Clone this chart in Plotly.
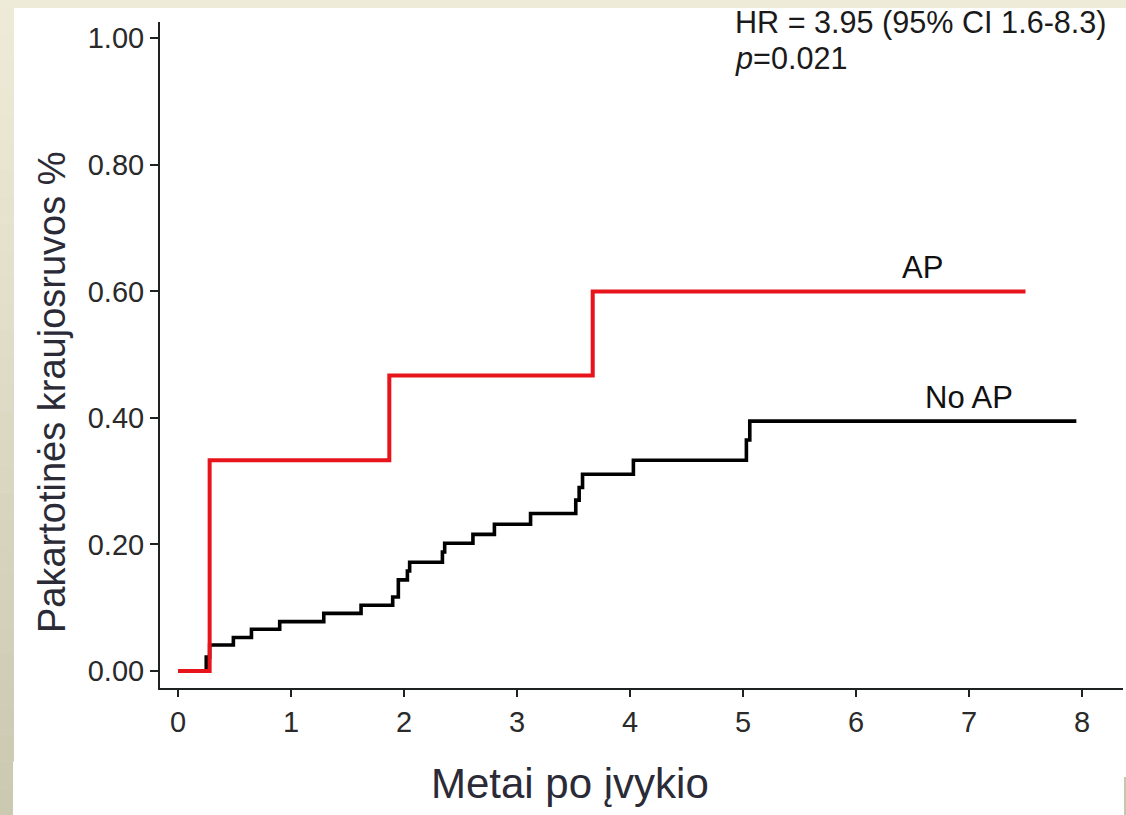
import plotly.graph_objects as go

# ---- data ----
ap_years = [0, 0.28, 1.87, 3.67, 7.50]
ap_values = [0, 0.333, 0.467, 0.600, 0.600]

noap_years = [0, 0.25, 0.28, 0.49, 0.65, 0.90, 1.29, 1.62, 1.90, 1.95, 2.03, 2.05,
              2.34, 2.36, 2.61, 2.80, 3.12, 3.52, 3.55, 3.58, 4.03, 5.03, 5.06, 7.95]
noap_values = [0, 0.022, 0.041, 0.053, 0.066, 0.078, 0.091, 0.104, 0.117, 0.144, 0.158, 0.172,
               0.188, 0.202, 0.216, 0.232, 0.249, 0.270, 0.290, 0.311, 0.333, 0.365, 0.395, 0.395]

x_ticks = [0, 1, 2, 3, 4, 5, 6, 7, 8]
y_ticks = [0.0, 0.2, 0.4, 0.6, 0.8, 1.0]

W, H = 1126, 815
L, R, T, B = 160, 3, 22, 127
pw, ph = W - L - R, H - T - B


def px(xp):
    return (xp - L) / pw


def py(yp):
    return (H - B - yp) / ph


FONT = "Arial, Liberation Sans, sans-serif"

fig = go.Figure()
fig.add_trace(go.Scatter(x=noap_years, y=noap_values, mode="lines", line_shape="hv",
                         line=dict(color="#000000", width=3.6), name="No AP", showlegend=False))
fig.add_trace(go.Scatter(x=ap_years, y=ap_values, mode="lines", line_shape="hv",
                         line=dict(color="#e8141b", width=4), name="AP", showlegend=False))

shapes = []
# beige slide border (gradient approximated with bands)
top_c = (0xEE, 0xEB, 0xD8)
bot_c = (0xCB, 0xC8, 0xB0)
n = 30
for i in range(n):
    y0 = 8 + (815 - 8) * i / n
    y1 = 8 + (815 - 8) * (i + 1) / n
    t = (i + 0.5) / n
    c = tuple(int(round(top_c[k] + (bot_c[k] - top_c[k]) * t)) for k in range(3))
    wdt = 14 if y0 < 743 else 13
    shapes.append(dict(type="rect", xref="paper", yref="paper", x0=px(0), x1=px(wdt),
                       y0=py(y1 + 0.5), y1=py(y0), fillcolor="rgb(%d,%d,%d)" % c, line=dict(width=0),
                       layer="below"))
shapes.append(dict(type="rect", xref="paper", yref="paper", x0=px(0), x1=px(W),
                   y0=py(8), y1=py(0), fillcolor="#EEEBD8", line=dict(width=0), layer="below"))
shapes.append(dict(type="rect", xref="paper", yref="paper", x0=px(1124), x1=px(1126),
                   y0=py(815), y1=py(777), fillcolor="#C9C6AE", line=dict(width=0), layer="below"))

annotations = [
    dict(x=6.59, y=0.637, xref="x", yref="y", text="AP", showarrow=False,
         xanchor="center", yanchor="middle",
         font=dict(family=FONT, size=31, color="#111111")),
    dict(x=7.0, y=0.433, xref="x", yref="y", text="No AP", showarrow=False,
         xanchor="center", yanchor="middle",
         font=dict(family=FONT, size=31, color="#111111")),
    dict(x=px(733), y=py(22), xref="paper", yref="paper", xanchor="left", yanchor="middle",
         text="HR = 3.95 (95% CI 1.6-8.3)", showarrow=False,
         font=dict(family=FONT, size=30.6, color="#1a1a1a")),
    dict(x=px(733), y=py(58), xref="paper", yref="paper", xanchor="left", yanchor="middle",
         text="<i>p</i>=0.021", showarrow=False,
         font=dict(family=FONT, size=30.6, color="#1a1a1a")),
    dict(x=px(570), y=py(783), xref="paper", yref="paper", text="Metai po įvykio",
         xanchor="center", yanchor="middle",
         showarrow=False, font=dict(family=FONT, size=42, color="#2b2b38")),
    dict(x=px(52), y=py(392), xref="paper", yref="paper", text="Pakartotinės kraujosruvos %",
         xanchor="center", yanchor="middle",
         textangle=-90, showarrow=False, font=dict(family=FONT, size=38, color="#2b2b38")),
]

fig.update_layout(
    width=W, height=H, autosize=False,
    margin=dict(l=L, r=R, t=T, b=B, pad=0),
    paper_bgcolor="white", plot_bgcolor="white",
    shapes=shapes, annotations=annotations,
    showlegend=False,
)
fig.update_xaxes(range=[(160 - 178) / 113, (1123 - 178) / 113], tickvals=x_ticks,
                 ticktext=[str(v) for v in x_ticks],
                 showgrid=False, zeroline=False, showline=True, linecolor="#1e2222", linewidth=2,
                 ticks="outside", ticklen=7, tickwidth=2, tickcolor="#1e2222",
                 tickfont=dict(family=FONT, size=29, color="#2a2a2a"))
fig.update_yaxes(range=[(671 - 688) / 632.7, (671 - 22) / 632.7], tickvals=y_ticks,
                 ticktext=["%.2f" % v for v in y_ticks],
                 showgrid=False, zeroline=False, showline=True, linecolor="#1e2222", linewidth=2,
                 ticks="outside", ticklen=8, tickwidth=2, tickcolor="#1e2222",
                 tickfont=dict(family=FONT, size=29, color="#2a2a2a"))

fig.write_html("out.html")
